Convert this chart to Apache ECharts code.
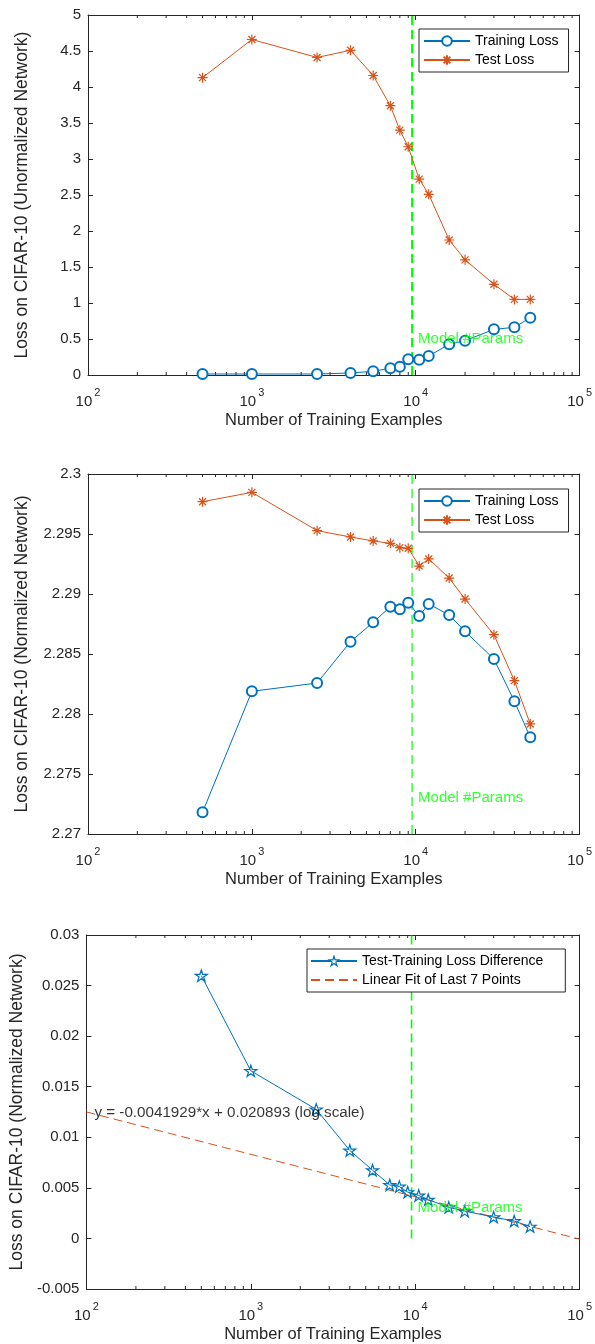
<!DOCTYPE html>
<html>
<head>
<meta charset="utf-8">
<script src="https://cdn.jsdelivr.net/npm/echarts@6/dist/echarts.min.js"></script>
<style>
html,body{margin:0;padding:0;background:#fff;}
#chart{width:595px;height:1344px;}
</style>
</head>
<body>
<div id="chart"></div>
<script>
// ---- data ----
const trainingExamples = [500, 1000, 2500, 4000, 5500, 7000, 8000, 9000, 10500, 12000, 16000, 20000, 30000, 40000, 50000];
const trainLossUnnorm = [0.014, 0.014, 0.014, 0.028, 0.051, 0.093, 0.116, 0.218, 0.213, 0.264, 0.426, 0.477, 0.634, 0.662, 0.796];
const testLossUnnorm  = [4.13, 4.66, 4.41, 4.51, 4.16, 3.74, 3.40, 3.17, 2.72, 2.51, 1.875, 1.60, 1.26, 1.05, 1.05];
const trainLossNorm = [2.27181, 2.28189, 2.28258, 2.28603, 2.28764, 2.28894, 2.28872, 2.28928, 2.28817, 2.28917, 2.28825, 2.28689, 2.28458, 2.28106, 2.27806];
const testLossNorm  = [2.29769, 2.29847, 2.29528, 2.29475, 2.29442, 2.29422, 2.29386, 2.29381, 2.29233, 2.29292, 2.29133, 2.28958, 2.28661, 2.28278, 2.27917];
const lossDiffNorm  = [0.02598, 0.01657, 0.01276, 0.0087, 0.00675, 0.00529, 0.00513, 0.00458, 0.00425, 0.00383, 0.00308, 0.0027, 0.00211, 0.00172, 0.00117];
const fitX = [100, 100000];
const fitY = [0.012507, -0.000072];
const modelParams = 9500;
const paramLineY = [[0, 5], [2.27, 2.3], [0, 0.03]];
const paramLabelY = [0.5, 2.273, 0.003];
const paramLabel = 'Model #Params';
const fitEquation = 'y = -0.0041929*x + 0.020893 (log scale)';
const fitEquationPos = [100, 0.0124];
const minorTicks = [200,300,400,500,600,700,800,900,2000,3000,4000,5000,6000,7000,8000,9000,20000,30000,40000,50000,60000,70000,80000,90000];
const yRanges = [[0, 5, 0.5], [2.27, 2.3, 0.005], [-0.005, 0.03, 0.005]];
const yDecimals = [1, 3, 3];
const yNames = ['Loss on CIFAR-10 (Unormalized Network)', 'Loss on CIFAR-10 (Normalized Network)', 'Loss on CIFAR-10 (Normalized Network)'];
const xName = 'Number of Training Examples';
const legendNames = [['Training Loss', 'Test Loss'], ['Training Loss', 'Test Loss'], ['Test-Training Loss Difference', 'Linear Fit of Last 7 Points']];

// ---- styles ----
const FONT = '"Liberation Sans", Arial, Helvetica, sans-serif';
const AX = '#262626';
const BLUE = '#0072BD';
const ORANGE = '#D95319';
const GREEN = '#00FF00';
const ASTERISK = 'path://M5,0L5,10M0,5L10,5M1.5,1.5L8.5,8.5M1.5,8.5L8.5,1.5';
const STAR = 'path://M50,0L61.2,34.5L97.6,34.5L68.2,55.9L79.4,90.5L50,69.1L20.6,90.5L31.8,55.9L2.4,34.5L38.8,34.5Z';
const greenWidths = [2, 1.2, 1.6];

const grids = [
  {left: 88, top: 15, width: 495, height: 360},
  {left: 88, top: 474, width: 495, height: 360},
  {left: 86, top: 935, width: 494, height: 361}
];

const xAxes = [], yAxes = [], series = [];
const lineSt = {color: AX, width: 1};

grids.forEach((g, i) => {
  const [ymin, ymax, yint] = yRanges[i];
  const dec = yDecimals[i];
  xAxes.push({
    type: 'log', logBase: 10, min: 100, max: 100000, gridIndex: i, position: 'bottom',
    axisLine: {show: true, onZero: false, lineStyle: lineSt},
    axisTick: {show: true, inside: true, length: 5, lineStyle: lineSt},
    splitLine: {show: false},
    axisLabel: {
      margin: 12, color: AX, fontFamily: FONT,
      formatter: v => '{b|10}{s|' + Math.round(Math.log10(v)) + '}',
      rich: {
        b: {fontSize: 15, fontFamily: FONT, color: AX, lineHeight: 22, verticalAlign: 'bottom'},
        s: {fontSize: 11, fontFamily: FONT, color: AX, lineHeight: 22, verticalAlign: 'top', padding: [0, 0, 0, 2]}
      }
    },
    name: xName, nameLocation: 'middle', nameGap: 37,
    nameTextStyle: {fontSize: 16.5, color: AX, fontFamily: FONT}
  });
  xAxes.push({
    type: 'log', logBase: 10, min: 100, max: 100000, gridIndex: i, position: 'top',
    axisLine: {show: true, onZero: false, lineStyle: lineSt},
    axisTick: {show: true, inside: true, length: 5, lineStyle: lineSt},
    axisLabel: {show: false}, splitLine: {show: false}
  });
  yAxes.push({
    type: 'value', min: ymin, max: ymax, interval: yint, gridIndex: i, position: 'left',
    axisLine: {show: true, onZero: false, lineStyle: lineSt},
    axisTick: {show: true, inside: true, length: 5, lineStyle: lineSt},
    splitLine: {show: false},
    axisLabel: {margin: 7, color: AX, fontSize: 15, fontFamily: FONT,
      formatter: v => String(+v.toFixed(dec))},
    name: yNames[i], nameLocation: 'middle', nameGap: 57, nameRotate: 90,
    nameTextStyle: {fontSize: 17.5, color: AX, fontFamily: FONT}
  });
  yAxes.push({
    type: 'value', min: ymin, max: ymax, interval: yint, gridIndex: i, position: 'right',
    axisLine: {show: true, onZero: false, lineStyle: lineSt},
    axisTick: {show: true, inside: true, length: 5, lineStyle: lineSt},
    axisLabel: {show: false}, splitLine: {show: false}
  });

  // minor ticks (top & bottom) drawn through the axis scale
  series.push({
    type: 'custom', xAxisIndex: 2 * i, yAxisIndex: 2 * i, silent: true, z: 1,
    data: minorTicks.map(v => [v, ymin]),
    renderItem: (params, api) => {
      const x = api.coord([api.value(0), api.value(1)])[0];
      const cs = params.coordSys;
      return {type: 'group', children: [
        {type: 'line', shape: {x1: x, y1: cs.y + cs.height, x2: x, y2: cs.y + cs.height - 3}, style: {stroke: AX, lineWidth: 1}},
        {type: 'line', shape: {x1: x, y1: cs.y, x2: x, y2: cs.y + 3}, style: {stroke: AX, lineWidth: 1}}
      ]};
    }
  });

  // model #params vertical dashed line
  series.push({
    type: 'line', xAxisIndex: 2 * i, yAxisIndex: 2 * i, silent: true, z: 3,
    data: paramLineY[i].map(y => [modelParams, y]),
    symbol: 'none',
    lineStyle: {color: GREEN, width: greenWidths[i], type: [9, 5]}
  });
});

const xy = (arr) => arr.map((v, k) => [trainingExamples[k], v]);

// Panel 1
series.push({
  name: 'Training Loss', type: 'line', xAxisIndex: 0, yAxisIndex: 0, z: 4,
  data: xy(trainLossUnnorm), symbol: 'emptyCircle', symbolSize: 10,
  lineStyle: {color: BLUE, width: 1}, itemStyle: {color: BLUE, borderColor: BLUE, borderWidth: 1.2}
});
series.push({
  name: 'Test Loss', type: 'line', xAxisIndex: 0, yAxisIndex: 0, z: 4,
  data: xy(testLossUnnorm), symbol: ASTERISK, symbolSize: 10,
  lineStyle: {color: ORANGE, width: 1}, itemStyle: {color: ORANGE, borderColor: ORANGE, borderWidth: 1.2}
});
// Panel 2
series.push({
  name: 'Training Loss', type: 'line', xAxisIndex: 2, yAxisIndex: 2, z: 4,
  data: xy(trainLossNorm), symbol: 'emptyCircle', symbolSize: 10,
  lineStyle: {color: BLUE, width: 1}, itemStyle: {color: BLUE, borderColor: BLUE, borderWidth: 1.2}
});
series.push({
  name: 'Test Loss', type: 'line', xAxisIndex: 2, yAxisIndex: 2, z: 4,
  data: xy(testLossNorm), symbol: ASTERISK, symbolSize: 10,
  lineStyle: {color: ORANGE, width: 1}, itemStyle: {color: ORANGE, borderColor: ORANGE, borderWidth: 1.2}
});
// Panel 3
series.push({
  name: 'Test-Training Loss Difference', type: 'line', xAxisIndex: 4, yAxisIndex: 4, z: 4,
  data: xy(lossDiffNorm), symbol: STAR, symbolSize: 12, symbolKeepAspect: true,
  lineStyle: {color: BLUE, width: 1}, itemStyle: {color: 'rgba(255,255,255,0)', borderColor: BLUE, borderWidth: 1.2}
});
series.push({
  name: 'Linear Fit of Last 7 Points', type: 'line', xAxisIndex: 4, yAxisIndex: 4, z: 3,
  data: fitX.map((x, k) => [x, fitY[k]]), symbol: 'none',
  lineStyle: {color: ORANGE, width: 1, type: [9, 5]}, itemStyle: {color: ORANGE}
});

// Text labels
grids.forEach((g, i) => {
  series.push({
    type: 'scatter', xAxisIndex: 2 * i, yAxisIndex: 2 * i, silent: true, z: 10,
    data: [[modelParams, paramLabelY[i]]], symbolSize: 0,
    label: {show: true, position: 'right', distance: 6, formatter: paramLabel,
      color: GREEN, fontSize: 15, fontFamily: FONT}
  });
});
series.push({
  type: 'scatter', xAxisIndex: 4, yAxisIndex: 4, silent: true, z: 10,
  data: [fitEquationPos], symbolSize: 0,
  label: {show: true, position: 'right', distance: 8, formatter: fitEquation,
    color: '#000', fontSize: 15.2, fontFamily: FONT}
});

const legendBase = {
  orient: 'vertical', itemWidth: 46, itemHeight: 12, itemGap: 5, itemTextGap: 4,
  borderColor: AX, borderWidth: 1, borderRadius: 0, backgroundColor: '#fff',
  textStyle: {fontSize: 14, color: '#000', fontFamily: FONT}, selectedMode: false
};
const legends = [
  Object.assign({}, legendBase, {data: legendNames[0], left: 419, top: 29, padding: [5, 10, 5, 4]}),
  Object.assign({}, legendBase, {data: legendNames[1], left: 419, top: 489, padding: [5, 10, 5, 4]}),
  Object.assign({}, legendBase, {
    data: [
      {name: legendNames[2][0], itemStyle: {color: '#ffffff', borderColor: BLUE, borderWidth: 1.2}},
      {name: legendNames[2][1], itemStyle: {color: 'rgba(0,0,0,0)', borderWidth: 0, opacity: 0}}
    ],
    left: 307, top: 949, padding: [5, 22, 5, 3]})
];

const chart = echarts.init(document.getElementById('chart'), null, {renderer: 'canvas'});
chart.setOption({
  animation: false,
  backgroundColor: '#fff',
  textStyle: {fontFamily: FONT},
  grid: grids.map(g => Object.assign({containLabel: false}, g)),
  xAxis: xAxes,
  yAxis: yAxes,
  legend: legends,
  series: series
});
</script>
</body>
</html>
